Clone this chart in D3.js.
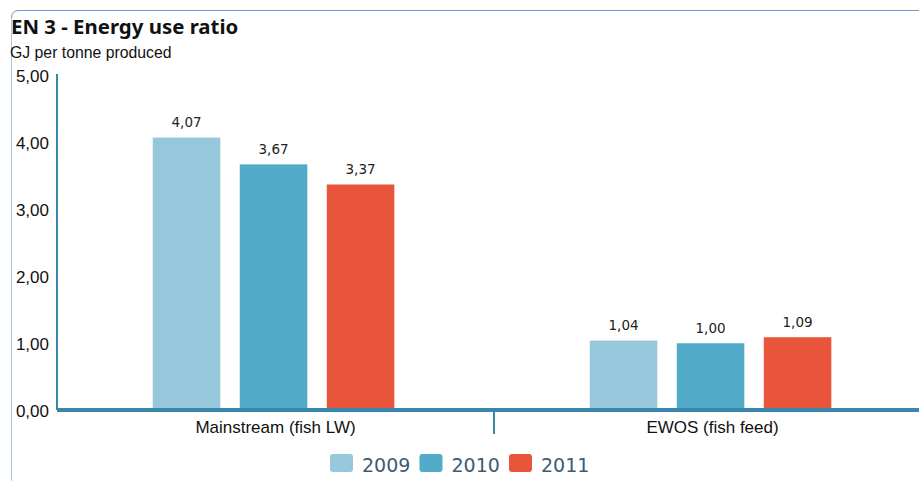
<!DOCTYPE html>
<html>
<head>
<meta charset="utf-8">
<style>
    body { margin: 0; background: #fff; }
    svg { display: block; }
    .title { font-family: "Noto Sans", sans-serif; font-weight: 700; font-size: 20.4px; fill: #111; }
    .subtitle { font-family: "Liberation Sans", Arial, sans-serif; font-size: 15.8px; fill: #111; }
    .value { font-family: "DejaVu Sans", Verdana, sans-serif; font-size: 13.5px; fill: #222; }
    .legend text { font-family: "DejaVu Sans", Verdana, sans-serif; font-size: 19px; fill: #3e5a74; }
</style>
</head>
<body>
<svg width="919" height="481"></svg>

<script src="https://d3js.org/d3.v7.min.js"></script>
<script>
    // chart data
    let categories = ["Mainstream (fish LW)", "EWOS (fish feed)"];
    let years = ["2009", "2010", "2011"];
    let values2009 = [4.07, 1.04];
    let values2010 = [3.67, 1.00];
    let values2011 = [3.37, 1.09];
    let yTicks = [0, 1, 2, 3, 4, 5];
    let colors = ["#96c7da", "#52abc8", "#e8553a"];

    let seriesValues = [values2009, values2010, values2011];
    let rows = categories.map((c, i) => ({
        category: c,
        bars: years.map((yr, j) => ({ year: yr, value: seriesValues[j][i] }))
    }));

    let svg = d3.select("svg");

    // frame
    svg.append("line")
        .attr("x1", 11.5).attr("x2", 11.5)
        .attr("y1", 17).attr("y2", 481)
        .attr("stroke", "#a9c9e2").attr("stroke-width", 1);
    svg.append("path")
        .attr("d", "M11.5,18 Q11.5,10.5 19,10.5 H919")
        .attr("fill", "none")
        .attr("stroke", "#6a9bcd").attr("stroke-width", 1);

    svg.append("text").attr("class", "title")
        .attr("x", 11).attr("y", 34)
        .text("EN 3 - Energy use ratio");
    svg.append("text").attr("class", "subtitle")
        .attr("x", 10).attr("y", 58)
        .text("GJ per tonne produced");

    let x0 = d3.scaleBand()
        .domain(categories)
        .range([57, 931]);

    let x1 = d3.scaleBand()
        .domain(years)
        .range([0, x0.bandwidth()])
        .paddingInner(0.218)
        .paddingOuter(1.12)
        .align(0.49);

    let y = d3.scaleLinear()
        .domain([0, 5])
        .range([410, 75]);

    let color = d3.scaleOrdinal().domain(years).range(colors);

    let fmt = d => d3.format(".2f")(d).replace(".", ",");

    // y axis
    svg.append("g")
        .attr("class", "y axis")
        .attr("transform", "translate(57,0)")
        .call(d3.axisLeft(y).tickValues(yTicks).tickSize(0).tickPadding(8).tickFormat(fmt))
        .call(g => g.selectAll(".tick text")
            .attr("font-family", "'Liberation Sans', Arial, sans-serif")
            .attr("font-size", "17px").attr("fill", "#111").attr("dy", "0.36em"))
        .call(g => g.select(".domain").attr("stroke", "#3a86aa").attr("stroke-width", 2)
            .attr("d", `M0,${y(5) - 1}V${y(0)}`));

    // bars
    let groups = svg.append("g")
        .selectAll("g")
        .data(rows)
        .join("g")
        .attr("transform", d => `translate(${x0(d.category)},0)`);

    groups.selectAll("rect")
        .data(d => d.bars)
        .join("rect")
        .attr("x", d => x1(d.year))
        .attr("y", d => y(d.value))
        .attr("width", x1.bandwidth())
        .attr("height", d => y(0) - y(d.value))
        .attr("fill", d => color(d.year))
        .attr("stroke", "rgba(255,255,255,0.5)")
        .attr("stroke-width", 1);

    groups.selectAll("text")
        .data(d => d.bars)
        .join("text")
        .attr("class", "value")
        .attr("x", d => x1(d.year) + x1.bandwidth() / 2)
        .attr("y", d => y(d.value) - 10)
        .attr("text-anchor", "middle")
        .text(d => fmt(d.value));

    // x axis
    svg.append("g")
        .attr("class", "x axis")
        .attr("transform", `translate(0,${y(0)})`)
        .call(d3.axisBottom(x0).tickSize(0).tickPadding(11))
        .call(g => g.selectAll(".tick text")
            .attr("font-family", "'Liberation Sans', Arial, sans-serif")
            .attr("font-size", "17px").attr("fill", "#111"))
        .call(g => g.select(".domain").attr("stroke", "#3a86aa").attr("stroke-width", 4)
            .attr("d", "M57,0H919"));

    // divider between categories
    svg.append("line")
        .attr("x1", x0(categories[1])).attr("x2", x0(categories[1]))
        .attr("y1", y(0)).attr("y2", y(0) + 24)
        .attr("stroke", "#3a86aa").attr("stroke-width", 2);

    // legend
    let legend = svg.append("g")
        .attr("class", "legend")
        .attr("transform", "translate(330,454)");

    let item = legend.selectAll("g")
        .data(years)
        .join("g")
        .attr("transform", (d, i) => `translate(${i * 89.5},0)`);

    item.append("rect")
        .attr("width", 23).attr("height", 18)
        .attr("rx", 3)
        .attr("fill", d => color(d));

    item.append("text")
        .attr("x", 32).attr("y", 18)
        .text(d => d);
</script>
</body>
</html>
